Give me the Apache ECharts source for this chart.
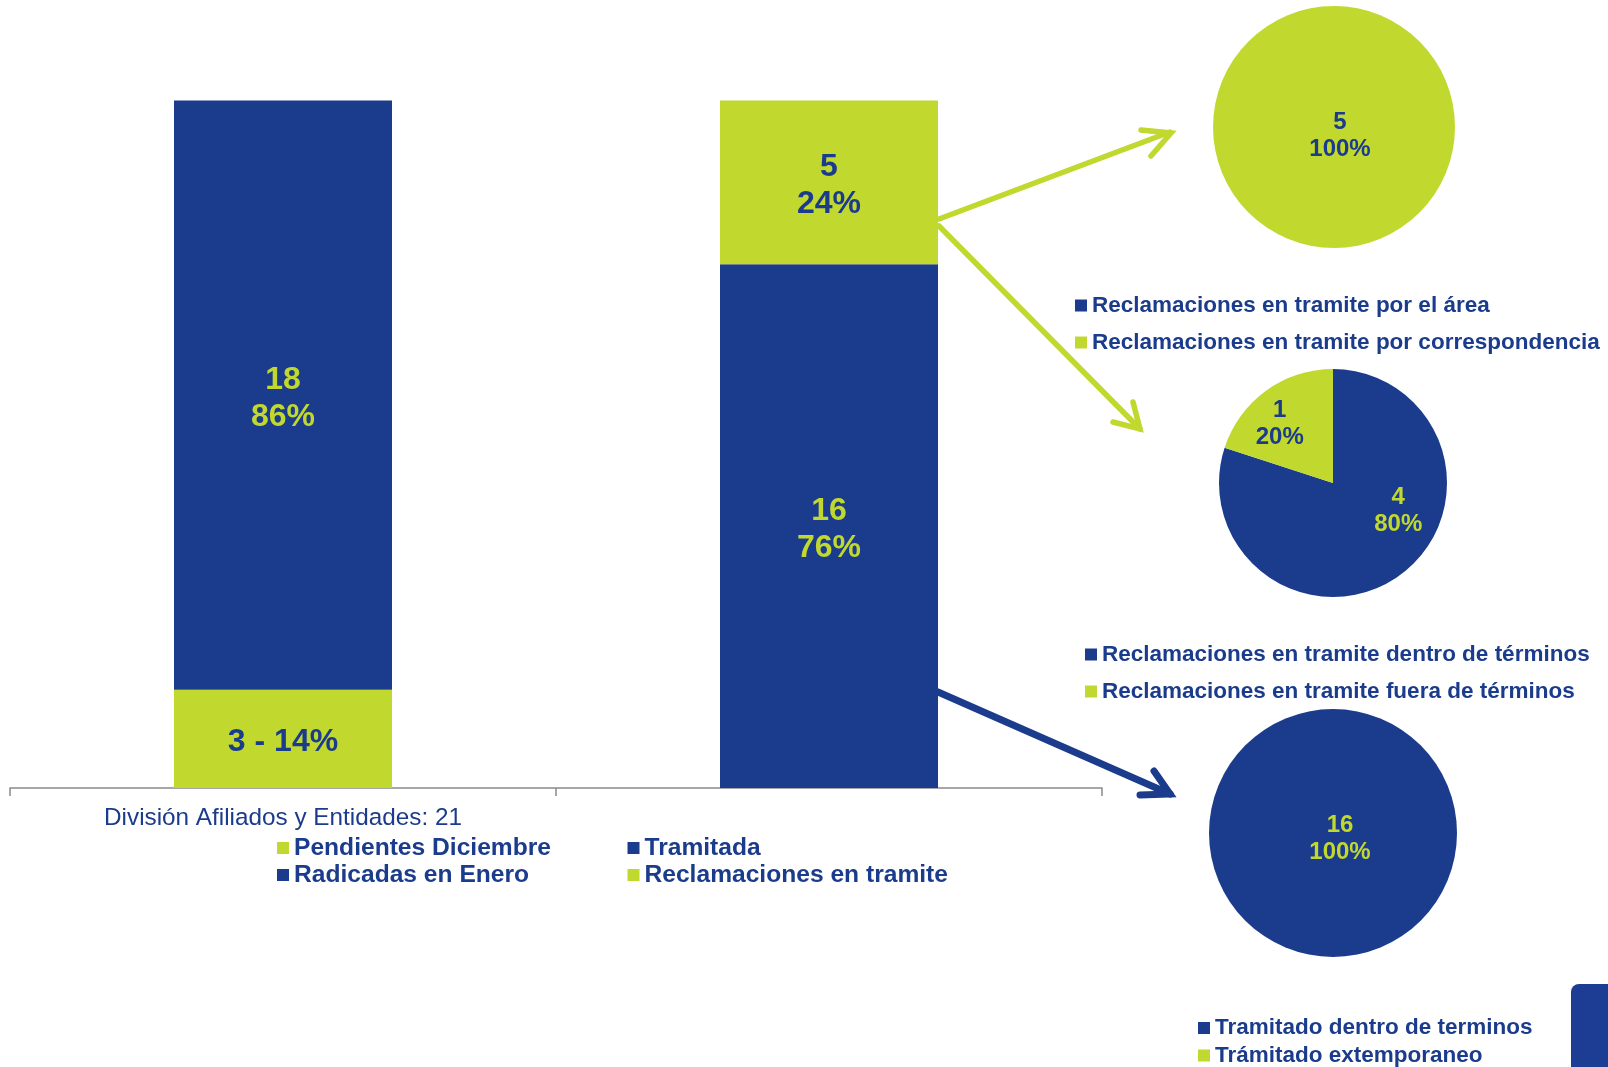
<!DOCTYPE html>
<html><head><meta charset="utf-8">
<script src="https://cdn.jsdelivr.net/npm/echarts@6/dist/echarts.min.js"></script>
<style>html,body{margin:0;padding:0;background:#fff}#c{width:1608px;height:1067px}</style>
</head><body><div id="c"></div>
<script>
const BLUE = '#1B3C8C', GREEN = '#C1D82F';
const FONT = "'Liberation Sans', Arial, sans-serif";

// ---- data ----
const categories = ['División Afiliados y Entidades: 21', ''];
const pendientesDiciembre = [3, '-'];
const radicadasEnero = [18, '-'];
const tramitada = ['-', 16];
const reclamacionesTramite = ['-', 5];

const pieAreaNames = ['Reclamaciones en tramite por el área', 'Reclamaciones en tramite por correspondencia'];
const pieAreaValues = [0, 5];
const pieTerminosNames = ['Reclamaciones en tramite dentro de términos', 'Reclamaciones en tramite fuera de términos'];
const pieTerminosValues = [4, 1];
const pieTramitadoNames = ['Tramitado dentro de terminos', 'Trámitado extemporaneo'];
const pieTramitadoValues = [16, 0];

// ---- helpers ----
const barArrays = [pendientesDiciembre, radicadasEnero, tramitada, reclamacionesTramite];
const totals = categories.map((c, i) => barArrays.reduce((s, a) => s + (typeof a[i] === 'number' ? a[i] : 0), 0));
const pct = (v, i) => Math.round(v / totals[i] * 100);

function barSeries(name, data, color, labelColor, single) {
  return {
    type: 'bar', name, data, stack: 'total', barWidth: 218,
    itemStyle: { color },
    label: {
      show: true, position: 'inside', color: labelColor, offset: [0, 3.5],
      fontFamily: FONT, fontWeight: 'bold', fontSize: 32, lineHeight: 37,
      formatter: p => single ? `${p.value} - ${pct(p.value, p.dataIndex)}%` : `${p.value}\n${pct(p.value, p.dataIndex)}%`
    }
  };
}

function pieData(names, values, colors) {
  return names.map((n, i) => ({ name: n, value: values[i], itemStyle: { color: colors[i] } }));
}
const pieLabelFmt = p => p.value === 0 ? '' : `${p.value}\n${Math.round(p.percent)}%`;

const legendText = { color: BLUE, fontFamily: FONT, fontWeight: 'bold', fontSize: 22.5, lineHeight: 27 };
const legendBase = { orient: 'vertical', icon: 'rect', itemWidth: 12, itemHeight: 12, selectedMode: false, padding: 0 };

const chart = echarts.init(document.getElementById('c'));
chart.setOption({
  animation: false,
  backgroundColor: '#fff',
  grid: { left: 10, right: 506, top: 100.5, bottom: 279, containLabel: false, outerBoundsMode: 'none' },
  xAxis: {
    type: 'category', data: categories,
    axisLine: { lineStyle: { color: '#8a8a8a', width: 1.5 } },
    axisTick: { show: true, length: 8, lineStyle: { color: '#8a8a8a', width: 1.5 } },
    axisLabel: { color: BLUE, fontFamily: FONT, fontSize: 24.3, margin: 16, lineHeight: 28 }
  },
  yAxis: { type: 'value', min: 0, max: 21, show: false, splitLine: { show: false } },
  legend: [
    Object.assign({}, legendBase, { left: 277, top: 834.5, itemGap: 0, height: 60,
      data: ['Pendientes Diciembre', 'Radicadas en Enero'],
      textStyle: Object.assign({}, legendText, { fontSize: 24.6 }) }),
    Object.assign({}, legendBase, { left: 627.5, top: 834.5, itemGap: 0, height: 60,
      data: ['Tramitada', 'Reclamaciones en tramite'],
      textStyle: Object.assign({}, legendText, { fontSize: 24.6 }) }),
    Object.assign({}, legendBase, { left: 1075, top: 292, itemGap: 10, height: 70, data: pieAreaNames, textStyle: legendText }),
    Object.assign({}, legendBase, { left: 1085, top: 641, itemGap: 10, height: 70, data: pieTerminosNames, textStyle: legendText }),
    Object.assign({}, legendBase, { left: 1198, top: 1014.5, itemGap: 0.5, height: 60, data: pieTramitadoNames, textStyle: legendText })
  ],
  series: [
    barSeries('Pendientes Diciembre', pendientesDiciembre, GREEN, BLUE, true),
    barSeries('Radicadas en Enero', radicadasEnero, BLUE, GREEN, false),
    barSeries('Tramitada', tramitada, BLUE, GREEN, false),
    barSeries('Reclamaciones en tramite', reclamacionesTramite, GREEN, BLUE, false),
    {
      type: 'pie', center: [1334, 127], radius: 121, startAngle: 90,
      itemStyle: { borderWidth: 0 }, labelLine: { show: false },
      label: { show: true, position: 'center', formatter: pieLabelFmt, color: BLUE, fontFamily: FONT, fontWeight: 'bold', fontSize: 24, lineHeight: 27, offset: [6, 9] },
      data: pieData(pieAreaNames, pieAreaValues, [BLUE, GREEN])
    },
    {
      type: 'pie', center: [1333, 483], radius: 114, startAngle: 90,
      itemStyle: { borderWidth: 0 }, labelLine: { show: false },
      label: { show: true, position: 'inside', formatter: pieLabelFmt, fontFamily: FONT, fontWeight: 'bold', fontSize: 24, lineHeight: 27 },
      data: pieData(pieTerminosNames, pieTerminosValues, [BLUE, GREEN]).map((d, i) => Object.assign(d, {
        label: i === 0 ? { color: GREEN, offset: [30, -21] } : { color: BLUE, offset: [-18, -11] }
      }))
    },
    {
      type: 'pie', center: [1333, 833], radius: 124, startAngle: 90,
      itemStyle: { borderWidth: 0 }, labelLine: { show: false },
      label: { show: true, position: 'center', formatter: pieLabelFmt, color: GREEN, fontFamily: FONT, fontWeight: 'bold', fontSize: 24, lineHeight: 27, offset: [7, 6] },
      data: pieData(pieTramitadoNames, pieTramitadoValues, [BLUE, GREEN])
    }
  ],
  graphic: [
    { type: 'polyline', shape: { points: [[939, 219], [1170, 132]] }, style: { stroke: GREEN, lineWidth: 5.5, fill: null, lineCap: 'round' } },
    { type: 'polyline', shape: { points: [[1141, 130], [1171, 133], [1151, 156]] }, style: { stroke: GREEN, lineWidth: 5.5, fill: null, lineCap: 'round', lineJoin: 'miter' } },
    { type: 'polyline', shape: { points: [[939, 226], [1140, 429]] }, style: { stroke: GREEN, lineWidth: 5.5, fill: null, lineCap: 'round' } },
    { type: 'polyline', shape: { points: [[1113, 422], [1140, 429], [1133, 402]] }, style: { stroke: GREEN, lineWidth: 5.5, fill: null, lineCap: 'round', lineJoin: 'miter' } },
    { type: 'polyline', shape: { points: [[938, 692], [1170, 794]] }, style: { stroke: BLUE, lineWidth: 7, fill: null, lineCap: 'round' } },
    { type: 'polyline', shape: { points: [[1140, 795], [1170, 794], [1154, 771]] }, style: { stroke: BLUE, lineWidth: 7, fill: null, lineCap: 'round', lineJoin: 'miter' } },
    { type: 'rect', shape: { x: 1571, y: 984, width: 60, height: 100, r: 8 }, style: { fill: '#1C3D93' } }
  ]
});
</script></body></html>
